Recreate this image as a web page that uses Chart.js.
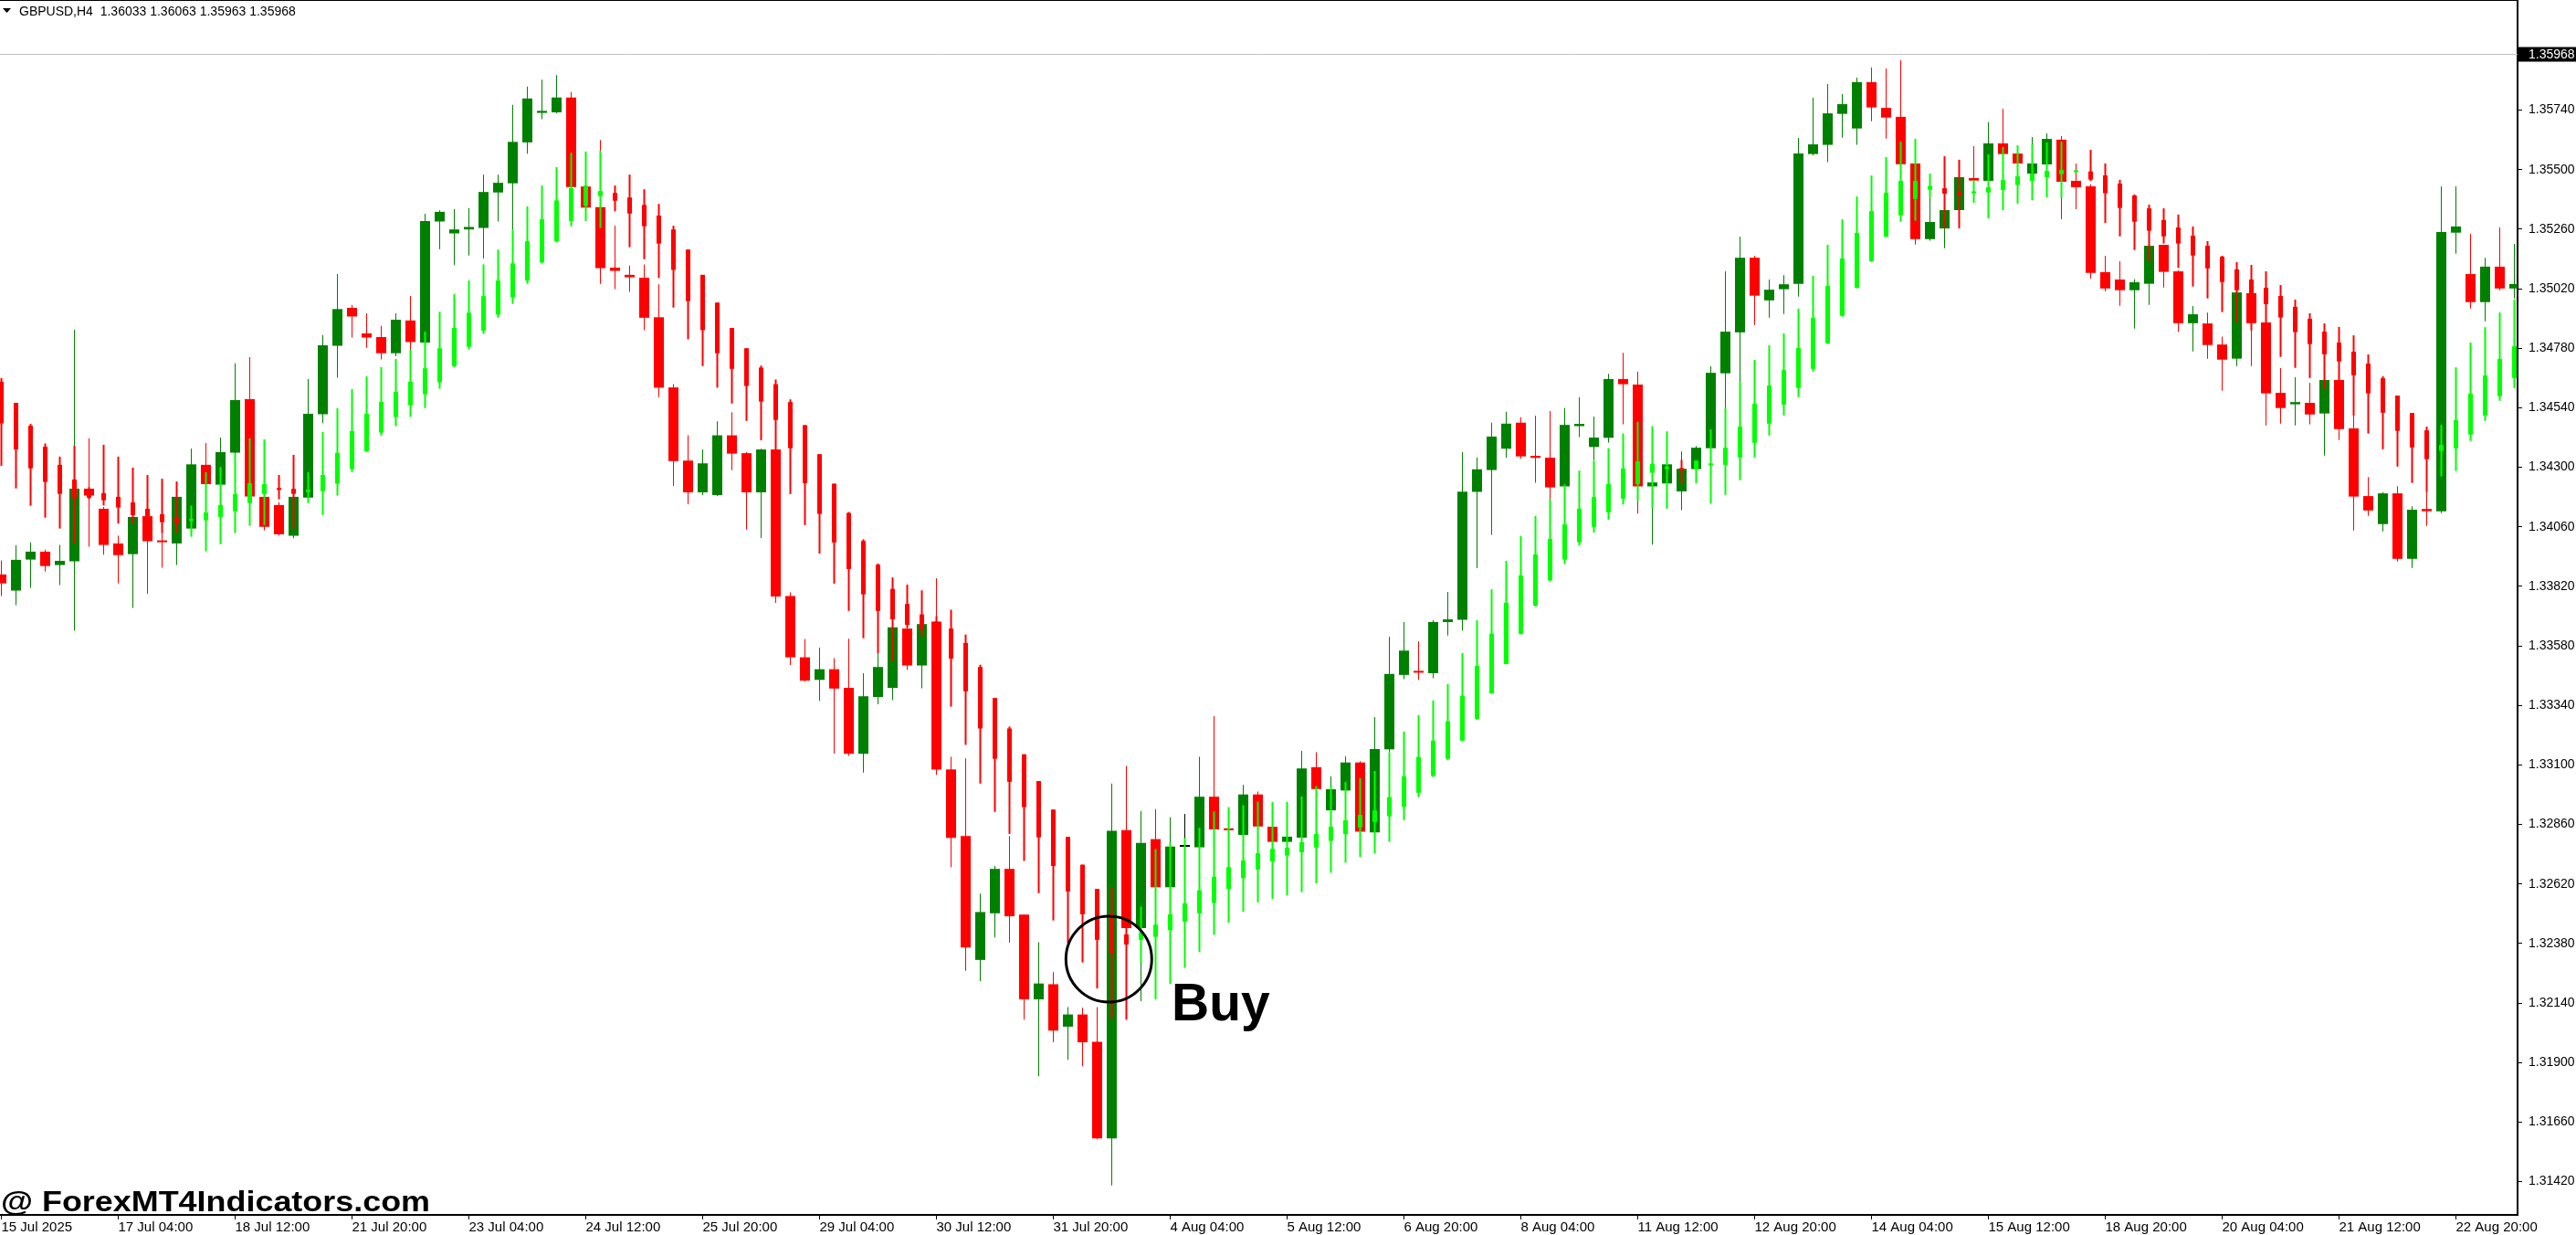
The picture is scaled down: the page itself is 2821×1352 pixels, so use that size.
<!DOCTYPE html>
<html>
<head>
<meta charset="utf-8">
<script src="https://cdn.jsdelivr.net/npm/chart.js@4.4.1/dist/chart.umd.min.js"></script>
<style>
  html, body { margin: 0; padding: 0; background: #fff; }
  #wrap { width: 2821px; height: 1352px; }
</style>
</head>
<body>
<div id="wrap"><canvas id="chart" width="2821" height="1352"></canvas></div>
<script>
// GBPUSD H4: price candles (thick) plus the smoothed indicator candles (thin)
const symbolInfo = 'GBPUSD,H4  1.36033 1.36063 1.35963 1.35968';
const bidPrice = 1.35968;
const watermark = '@ ForexMT4Indicators.com';
const buyText = 'Buy';

// one label every 8 bars
const labelStep = 8;
const xLabels = ['15 Jul 2025', '17 Jul 04:00', '18 Jul 12:00', '21 Jul 20:00', '23 Jul 04:00', '24 Jul 12:00',
  '25 Jul 20:00', '29 Jul 04:00', '30 Jul 12:00', '31 Jul 20:00', '4 Aug 04:00', '5 Aug 12:00', '6 Aug 20:00',
  '8 Aug 04:00', '11 Aug 12:00', '12 Aug 20:00', '14 Aug 04:00', '15 Aug 12:00', '18 Aug 20:00', '20 Aug 04:00',
  '21 Aug 12:00', '22 Aug 20:00'];
const yTicks = [1.31420, 1.31660, 1.31900, 1.32140, 1.32380, 1.32620, 1.32860, 1.33100, 1.33340, 1.33580,
  1.33820, 1.34060, 1.34300, 1.34540, 1.34780, 1.35020, 1.35260, 1.35500, 1.35740];
const priceMin = 1.31286;
const priceMax = 1.36184;

const candleOpen = [
  1.33868,1.33803,1.33928,1.33960,1.33906,1.33921,1.34214,1.34133,1.33993,1.33950,
  1.34103,1.34004,1.33993,1.34053,1.34310,1.34230,1.34359,1.34575,1.34181,1.34148,
  1.34024,1.34178,1.34514,1.34790,1.34943,1.34840,1.34825,1.34760,1.34892,1.34803,
  1.35291,1.35243,1.35259,1.35265,1.35408,1.35445,1.35610,1.35729,1.35731,1.35791,
  1.35432,1.35349,1.35105,1.35076,1.35064,1.34905,1.34622,1.34327,1.34199,1.34188,
  1.34429,1.34357,1.34199,1.34372,1.33781,1.33534,1.33443,1.33486,1.33411,1.33145,
  1.33374,1.33411,1.33650,1.33501,1.33678,1.33082,1.32813,1.32314,1.32502,1.32681,
  1.32497,1.32155,1.32216,1.32045,1.32094,1.31984,1.31594,1.32837,1.32442,1.32801,
  1.32607,1.32770,1.32768,1.32972,1.32844,1.32818,1.32981,1.32851,1.32790,1.32807,
  1.33091,1.32917,1.32997,1.33110,1.32828,1.33163,1.33463,1.33477,1.33470,1.33676,
  1.33685,1.34201,1.34289,1.34375,1.34480,1.34346,1.34339,1.34223,1.34466,1.34382,
  1.34419,1.34656,1.34634,1.34223,1.34235,1.34203,1.34293,1.34377,1.34679,1.34844,
  1.35145,1.34973,1.35018,1.35040,1.35563,1.35600,1.35725,1.35666,1.35853,1.35749,
  1.35713,1.35525,1.35220,1.35263,1.35337,1.35466,1.35455,1.35606,1.35565,1.35484,
  1.35521,1.35621,1.35455,1.35433,1.35087,1.35057,1.35014,1.35040,1.35197,1.35090,
  1.34881,1.34880,1.34795,1.34738,1.35002,1.34884,1.34600,1.34554,1.34560,1.34517,
  1.34652,1.34457,1.34184,1.34071,1.34195,1.33931,1.34132,1.34123,1.35246,1.35079,
  1.34966,1.35109,1.35021];
const candleHigh = [
  1.33925,1.33986,1.33997,1.33968,1.33987,1.34855,1.34417,1.34140,1.34024,1.34110,
  1.34128,1.34060,1.34196,1.34376,1.34398,1.34420,1.34719,1.34744,1.34196,1.34159,
  1.34189,1.34656,1.34833,1.35079,1.34954,1.34921,1.34870,1.34921,1.34991,1.35322,
  1.35336,1.35341,1.35345,1.35480,1.35480,1.35761,1.35835,1.35863,1.35881,1.35813,
  1.35440,1.35620,1.35274,1.35113,1.35118,1.35038,1.34635,1.34429,1.34372,1.34485,
  1.34522,1.34362,1.34375,1.34385,1.33796,1.33608,1.33573,1.33531,1.33609,1.33470,
  1.33551,1.33661,1.33656,1.33678,1.33853,1.33133,1.33126,1.32581,1.32693,1.32813,
  1.32497,1.32385,1.32265,1.32124,1.32121,1.32124,1.33025,1.33096,1.32915,1.32922,
  1.32889,1.32903,1.33133,1.33297,1.32849,1.33020,1.32993,1.32863,1.32821,1.33157,
  1.33151,1.33054,1.33135,1.33115,1.33293,1.33617,1.33676,1.33599,1.33683,1.33798,
  1.34361,1.34340,1.34480,1.34524,1.34502,1.34508,1.34527,1.34539,1.34583,1.34505,
  1.34677,1.34762,1.34686,1.34275,1.34318,1.34364,1.34386,1.34707,1.35090,1.35230,
  1.35153,1.35057,1.35075,1.35628,1.35790,1.35845,1.35805,1.35871,1.35912,1.35908,
  1.35941,1.35533,1.35388,1.35349,1.35472,1.35595,1.35691,1.35746,1.35570,1.35632,
  1.35646,1.35635,1.35525,1.35441,1.35153,1.35131,1.35058,1.35196,1.35197,1.35094,
  1.34950,1.34924,1.34827,1.35012,1.35005,1.34889,1.34700,1.34663,1.34641,1.34654,
  1.34654,1.34508,1.34261,1.34199,1.34224,1.34143,1.34199,1.35433,1.35433,1.35241,
  1.35145,1.35267,1.35201];
const candleLow = [
  1.33781,1.33744,1.33814,1.33880,1.33825,1.33641,1.33980,1.33948,1.33832,1.33733,
  1.33790,1.33895,1.33906,1.34036,1.34220,1.34214,1.34343,1.34171,1.34046,1.34024,
  1.34014,1.34159,1.34478,1.34661,1.34823,1.34782,1.34735,1.34748,1.34773,1.34793,
  1.35180,1.35115,1.35154,1.35142,1.35291,1.35258,1.35564,1.35703,1.35727,1.35421,
  1.35341,1.35040,1.35018,1.35007,1.34853,1.34583,1.34225,1.34151,1.34188,1.34184,
  1.34288,1.34049,1.34015,1.33753,1.33503,1.33436,1.33358,1.33146,1.33137,1.33069,
  1.33345,1.33362,1.33484,1.33409,1.33060,1.32688,1.32270,1.32229,1.32405,1.32383,
  1.32073,1.31845,1.31982,1.31911,1.31885,1.31591,1.31405,1.32434,1.32148,1.32595,
  1.32586,1.32747,1.32756,1.32832,1.32832,1.32806,1.32844,1.32778,1.32782,1.32795,
  1.32990,1.32897,1.32981,1.32821,1.32821,1.33151,1.33446,1.33443,1.33450,1.33622,
  1.33641,1.33893,1.34028,1.34338,1.34334,1.34238,1.34173,1.34216,1.34422,1.34329,
  1.34400,1.34473,1.34113,1.33988,1.34232,1.34127,1.34287,1.34367,1.34539,1.34644,
  1.34874,1.34903,1.34918,1.34988,1.35557,1.35530,1.35629,1.35600,1.35695,1.35625,
  1.35515,1.35198,1.35214,1.35183,1.35331,1.35447,1.35447,1.35558,1.35521,1.35478,
  1.35515,1.35300,1.35341,1.35061,1.35009,1.34951,1.34859,1.34955,1.35025,1.34845,
  1.34767,1.34738,1.34609,1.34708,1.34708,1.34469,1.34476,1.34469,1.34473,1.34347,
  1.34410,1.34045,1.34104,1.34042,1.33920,1.33894,1.34064,1.34115,1.35161,1.34940,
  1.34889,1.35014,1.34981];
const candleClose = [
  1.33832,1.33927,1.33960,1.33902,1.33923,1.34214,1.34186,1.33987,1.33946,1.34100,
  1.34002,1.33998,1.34181,1.34312,1.34232,1.34361,1.34571,1.34182,1.34060,1.34030,
  1.34181,1.34516,1.34792,1.34938,1.34908,1.34823,1.34760,1.34895,1.34805,1.35293,
  1.35330,1.35259,1.35269,1.35410,1.35447,1.35612,1.35787,1.35737,1.35791,1.35430,
  1.35347,1.35103,1.35092,1.35066,1.34903,1.34621,1.34325,1.34199,1.34316,1.34429,
  1.34355,1.34199,1.34372,1.33779,1.33534,1.33440,1.33486,1.33408,1.33145,1.33377,
  1.33495,1.33655,1.33501,1.33668,1.33081,1.32806,1.32364,1.32507,1.32681,1.32490,
  1.32155,1.32219,1.32029,1.32094,1.31982,1.31594,1.32835,1.32442,1.32786,1.32607,
  1.32771,1.32770,1.32972,1.32840,1.32837,1.32981,1.32852,1.32790,1.32811,1.33086,
  1.33003,1.33002,1.33110,1.32831,1.33164,1.33467,1.33561,1.33472,1.33676,1.33687,
  1.34202,1.34292,1.34424,1.34476,1.34344,1.34338,1.34219,1.34471,1.34475,1.34420,
  1.34656,1.34635,1.34223,1.34239,1.34312,1.34294,1.34379,1.34681,1.34847,1.35145,
  1.34992,1.35016,1.35038,1.35565,1.35602,1.35727,1.35764,1.35853,1.35751,1.35710,
  1.35522,1.35220,1.35289,1.35337,1.35470,1.35456,1.35606,1.35563,1.35525,1.35525,
  1.35624,1.35451,1.35429,1.35084,1.35021,1.35014,1.35046,1.35193,1.35088,1.34881,
  1.34917,1.34793,1.34734,1.35005,1.34881,1.34598,1.34539,1.34563,1.34513,1.34652,
  1.34454,1.34182,1.34126,1.34195,1.33931,1.34129,1.34123,1.35249,1.35271,1.34966,
  1.35109,1.35021,1.35039];

// indicator candles (lime up / red down)
const haOpen = [
  1.34645,1.34560,1.34468,1.34383,1.34310,1.34251,1.34196,1.34196,1.34181,1.34159,
  1.34133,1.34111,1.34096,1.34083,1.34087,1.34100,1.34123,1.34156,1.34192,1.34216,
  1.34213,1.34200,1.34204,1.34234,1.34293,1.34365,1.34440,1.34503,1.34550,1.34595,
  1.34643,1.34708,1.34786,1.34851,1.34916,1.34985,1.35053,1.35126,1.35211,1.35293,
  1.35354,1.35393,1.35406,1.35388,1.35358,1.35315,1.35259,1.35178,1.35076,1.34964,
  1.34862,1.34780,1.34702,1.34635,1.34563,1.34470,1.34353,1.34234,1.34116,1.34003,
  1.33907,1.33810,1.33749,1.33707,1.33678,1.33650,1.33592,1.33495,1.33370,1.33247,
  1.33143,1.33035,1.32920,1.32810,1.32698,1.32600,1.32502,1.32417,1.32395,1.32407,
  1.32434,1.32468,1.32502,1.32544,1.32600,1.32644,1.32678,1.32711,1.32735,1.32748,
  1.32767,1.32794,1.32821,1.32848,1.32870,1.32893,1.32931,1.32988,1.33056,1.33125,
  1.33198,1.33286,1.33389,1.33507,1.33629,1.33742,1.33845,1.33928,1.33998,1.34060,
  1.34119,1.34174,1.34233,1.34278,1.34293,1.34297,1.34293,1.34308,1.34310,1.34340,
  1.34399,1.34476,1.34553,1.34620,1.34697,1.34800,1.34911,1.35024,1.35131,1.35230,
  1.35316,1.35382,1.35419,1.35425,1.35414,1.35405,1.35408,1.35418,1.35438,1.35455,
  1.35470,1.35482,1.35490,1.35493,1.35477,1.35444,1.35396,1.35344,1.35297,1.35267,
  1.35234,1.35193,1.35149,1.35098,1.35057,1.35024,1.34991,1.34947,1.34899,1.34847,
  1.34803,1.34766,1.34718,1.34659,1.34589,1.34519,1.34449,1.34366,1.34377,1.34432,
  1.34509,1.34587,1.34660];
const haHigh = [
  1.34660,1.34560,1.34475,1.34396,1.34343,1.34387,1.34220,1.34391,1.34343,1.34299,
  1.34269,1.34254,1.34243,1.34146,1.34280,1.34302,1.34355,1.34417,1.34413,1.34269,
  1.34350,1.34280,1.34442,1.34538,1.34615,1.34667,1.34704,1.34737,1.34774,1.34847,
  1.34927,1.34998,1.35053,1.35118,1.35178,1.35259,1.35352,1.35436,1.35510,1.35568,
  1.35573,1.35577,1.35436,1.35480,1.35421,1.35362,1.35274,1.35178,1.35076,1.34964,
  1.34862,1.34780,1.34710,1.34654,1.34574,1.34470,1.34353,1.34234,1.34120,1.34010,
  1.33912,1.33856,1.33827,1.33804,1.33700,1.33726,1.33626,1.33504,1.33370,1.33255,
  1.33143,1.33035,1.32920,1.32810,1.32698,1.32600,1.32607,1.32442,1.32529,1.32761,
  1.32786,1.32806,1.32847,1.32913,1.32930,1.32938,1.32952,1.32951,1.32951,1.32973,
  1.33015,1.33017,1.33032,1.33047,1.33076,1.33151,1.33235,1.33301,1.33360,1.33426,
  1.33551,1.33683,1.33808,1.33923,1.34023,1.34104,1.34173,1.34231,1.34287,1.34327,
  1.34377,1.34436,1.34483,1.34466,1.34445,1.34330,1.34327,1.34453,1.34539,1.34644,
  1.34733,1.34792,1.34840,1.34939,1.35072,1.35197,1.35300,1.35392,1.35477,1.35551,
  1.35613,1.35624,1.35484,1.35554,1.35540,1.35458,1.35562,1.35591,1.35598,1.35602,
  1.35610,1.35613,1.35497,1.35580,1.35525,1.35459,1.35400,1.35359,1.35344,1.35319,
  1.35271,1.35212,1.35153,1.35127,1.35116,1.35090,1.35035,1.34976,1.34921,1.34880,
  1.34866,1.34832,1.34755,1.34667,1.34589,1.34519,1.34464,1.34471,1.34703,1.34803,
  1.34865,1.34924,1.34976];
const haLow = [
  1.34306,1.34215,1.34145,1.34097,1.34053,1.33993,1.34171,1.34146,1.34073,1.34073,
  1.34103,1.34036,1.34036,1.34020,1.33961,1.33990,1.34035,1.34064,1.34067,1.34171,
  1.34053,1.34156,1.34108,1.34186,1.34281,1.34361,1.34428,1.34466,1.34503,1.34539,
  1.34617,1.34704,1.34775,1.34838,1.34903,1.34959,1.35040,1.35122,1.35207,1.35272,
  1.35293,1.35265,1.35332,1.35187,1.35139,1.35063,1.34944,1.34816,1.34708,1.34621,
  1.34557,1.34487,1.34409,1.34372,1.34192,1.34067,1.33952,1.33831,1.33721,1.33611,
  1.33551,1.33517,1.33653,1.33619,1.33450,1.33335,1.33181,1.33025,1.32911,1.32822,
  1.32713,1.32583,1.32473,1.32381,1.32304,1.32199,1.32078,1.32073,1.32302,1.32155,
  1.32217,1.32282,1.32346,1.32415,1.32464,1.32508,1.32546,1.32560,1.32574,1.32587,
  1.32623,1.32665,1.32706,1.32729,1.32743,1.32790,1.32878,1.32970,1.33051,1.33120,
  1.33196,1.33282,1.33387,1.33506,1.33626,1.33739,1.33839,1.33910,1.33984,1.34037,
  1.34089,1.34150,1.34163,1.34136,1.34133,1.34232,1.34235,1.34153,1.34189,1.34248,
  1.34340,1.34428,1.34509,1.34583,1.34686,1.34797,1.34907,1.35021,1.35128,1.35228,
  1.35290,1.35294,1.35388,1.35263,1.35263,1.35366,1.35304,1.35337,1.35363,1.35377,
  1.35388,1.35386,1.35487,1.35454,1.35285,1.35231,1.35176,1.35132,1.35202,1.35104,
  1.35029,1.34981,1.34926,1.34885,1.34852,1.34884,1.34745,1.34701,1.34660,1.34616,
  1.34649,1.34508,1.34436,1.34373,1.34303,1.34237,1.34200,1.34263,1.34285,1.34406,
  1.34487,1.34568,1.34619];
const haClose = [
  1.34477,1.34372,1.34296,1.34241,1.34193,1.34175,1.34177,1.34167,1.34138,1.34107,
  1.34103,1.34079,1.34075,1.34092,1.34118,1.34148,1.34192,1.34236,1.34232,1.34209,
  1.34193,1.34210,1.34269,1.34358,1.34446,1.34516,1.34564,1.34604,1.34645,1.34699,
  1.34780,1.34862,1.34923,1.34990,1.35053,1.35122,1.35211,1.35300,1.35376,1.35425,
  1.35436,1.35414,1.35375,1.35323,1.35272,1.35202,1.35096,1.34970,1.34853,1.34760,
  1.34697,1.34628,1.34565,1.34491,1.34377,1.34236,1.34112,1.33997,1.33890,1.33788,
  1.33721,1.33687,1.33665,1.33648,1.33622,1.33529,1.33397,1.33247,1.33125,1.33032,
  1.32930,1.32808,1.32693,1.32590,1.32498,1.32395,1.32341,1.32376,1.32425,1.32456,
  1.32498,1.32542,1.32595,1.32649,1.32688,1.32715,1.32744,1.32762,1.32767,1.32789,
  1.32822,1.32851,1.32877,1.32899,1.32917,1.32970,1.33054,1.33132,1.33198,1.33276,
  1.33379,1.33499,1.33629,1.33754,1.33864,1.33949,1.34011,1.34070,1.34133,1.34180,
  1.34233,1.34295,1.34324,1.34314,1.34303,1.34287,1.34327,1.34316,1.34379,1.34464,
  1.34556,1.34630,1.34692,1.34781,1.34902,1.35031,1.35142,1.35245,1.35333,1.35407,
  1.35455,1.35455,1.35434,1.35403,1.35396,1.35411,1.35429,1.35458,1.35473,1.35484,
  1.35495,1.35499,1.35493,1.35460,1.35405,1.35346,1.35290,1.35254,1.35231,1.35202,
  1.35154,1.35102,1.35047,1.35014,1.34991,1.34958,1.34904,1.34845,1.34797,1.34756,
  1.34727,1.34671,1.34598,1.34520,1.34447,1.34380,1.34333,1.34390,1.34490,1.34597,
  1.34670,1.34737,1.34788];

// where the "Buy" note sits: bar index and price
const buyCircle = { bar: 75.8, price: 1.32317 };
const buyLabel = { bar: 80.1, price: 1.32071 };

const UP = '#008000', DOWN = '#ff0000', FLAT = '#000000';
const HA_UP = '#00ff00', HA_DOWN = '#ff0000';
const FONT = "'Liberation Sans', Arial, sans-serif";

const bars = candleOpen.map((_, i) => i);

function bodies(o, c) {
  return bars.map(i => ({ x: i, y: [o[i], c[i]] }));
}
function wicks(h, l) {
  return bars.map(i => ({ x: i, y: [l[i], h[i]] }));
}
function colours(o, c, up, down, flat) {
  return bars.map(i => c[i] > o[i] ? up : (c[i] < o[i] ? down : flat));
}

const mainColours = colours(candleOpen, candleClose, UP, DOWN, FLAT);
const haColours = colours(haOpen, haClose, HA_UP, HA_DOWN, HA_UP);

function barSet(data, colour, thickness, minLen) {
  return {
    data: data,
    backgroundColor: colour,
    borderWidth: 0,
    barThickness: thickness,
    grouped: false,
    inflateAmount: 0,
    minBarLength: minLen
  };
}

// extra drawing: frame, bid line, header, watermark, buy note
const decor = {
  id: 'decor',
  afterDraw(chart) {
    const ctx = chart.ctx;
    const area = chart.chartArea;
    const xs = chart.scales.x, ys = chart.scales.y;
    ctx.save();

    // top frame line
    ctx.fillStyle = '#000';
    ctx.fillRect(0, 0, area.right, 1);

    // bid line and its label
    const by = Math.round(ys.getPixelForValue(bidPrice)) + 0.5;
    ctx.strokeStyle = '#c0c0c0';
    ctx.lineWidth = 1;
    ctx.beginPath();
    ctx.moveTo(area.left, by);
    ctx.lineTo(area.right, by);
    ctx.stroke();
    ctx.fillStyle = '#000';
    ctx.fillRect(area.right + 1, by - 8, 2821 - area.right, 16);
    ctx.fillStyle = '#fff';
    ctx.font = '14px ' + FONT;
    ctx.textBaseline = 'middle';
    ctx.textAlign = 'left';
    ctx.fillText(bidPrice.toFixed(5), area.right + 12, by + 1);

    // header
    ctx.fillStyle = '#000';
    ctx.beginPath();
    ctx.moveTo(3, 9);
    ctx.lineTo(12, 9);
    ctx.lineTo(7.5, 14);
    ctx.closePath();
    ctx.fill();
    ctx.font = '14px ' + FONT;
    ctx.textBaseline = 'alphabetic';
    ctx.fillText(symbolInfo, 21, 17);

    // watermark, stretched to its width in the picture
    ctx.font = 'bold 32px ' + FONT;
    const w = ctx.measureText(watermark).width;
    ctx.save();
    ctx.translate(1, 1326);
    ctx.scale(470 / w, 1);
    ctx.fillText(watermark, 0, 0);
    ctx.restore();

    // buy circle
    const cx = xs.getPixelForValue(buyCircle.bar);
    const cy = ys.getPixelForValue(buyCircle.price);
    ctx.strokeStyle = '#000';
    ctx.lineWidth = 3;
    ctx.beginPath();
    ctx.ellipse(cx, cy, 47, 47, 0, 0, Math.PI * 2);
    ctx.stroke();

    // buy text
    ctx.font = 'bold 57px ' + FONT;
    ctx.fillText(buyText, xs.getPixelForValue(buyLabel.bar), ys.getPixelForValue(buyLabel.price));
    ctx.restore();
  }
};

new Chart(document.getElementById('chart'), {
  type: 'bar',
  data: {
    datasets: [
      barSet(bodies(haOpen, haClose), haColours, 5, 2),
      barSet(wicks(haHigh, haLow), haColours, 2, 0),
      barSet(bodies(candleOpen, candleClose), mainColours, 11, 2),
      barSet(wicks(candleHigh, candleLow), mainColours, 1, 0)
    ]
  },
  options: {
    responsive: false,
    animation: false,
    devicePixelRatio: 1,
    layout: { padding: 0 },
    plugins: { legend: { display: false }, tooltip: { enabled: false } },
    scales: {
      x: {
        type: 'linear',
        offset: false,
        min: -1.5 / 16,
        max: -1.5 / 16 + 2757 / 16,
        afterBuildTicks: s => { s.ticks = xLabels.map((_, k) => ({ value: k * labelStep })); },
        afterFit: s => { s.height = 22; s.paddingLeft = 0; s.paddingRight = 0; },
        grid: { display: true, offset: false, drawOnChartArea: false, drawTicks: true, tickLength: 5, color: '#000' },
        border: { display: true, color: '#000', width: 2 },
        ticks: {
          autoSkip: false,
          maxRotation: 0,
          minRotation: 0,
          align: 'start',
          padding: 0,
          color: '#000',
          font: { family: FONT, size: 15 },
          callback: (v, i) => xLabels[i]
        }
      },
      y: {
        type: 'linear',
        position: 'right',
        stacked: false,
        beginAtZero: false,
        min: priceMin,
        max: priceMax,
        afterBuildTicks: s => { s.ticks = yTicks.map(v => ({ value: v })); },
        afterFit: s => { s.width = 64; s.paddingTop = 0; s.paddingBottom = 0; },
        grid: { display: true, drawOnChartArea: false, drawTicks: true, tickLength: 5, color: '#000' },
        border: { display: true, color: '#000', width: 2 },
        ticks: {
          padding: 7,
          color: '#000',
          font: { family: FONT, size: 14 },
          callback: v => v.toFixed(5)
        }
      }
    }
  },
  plugins: [decor]
});
</script>
</body>
</html>
